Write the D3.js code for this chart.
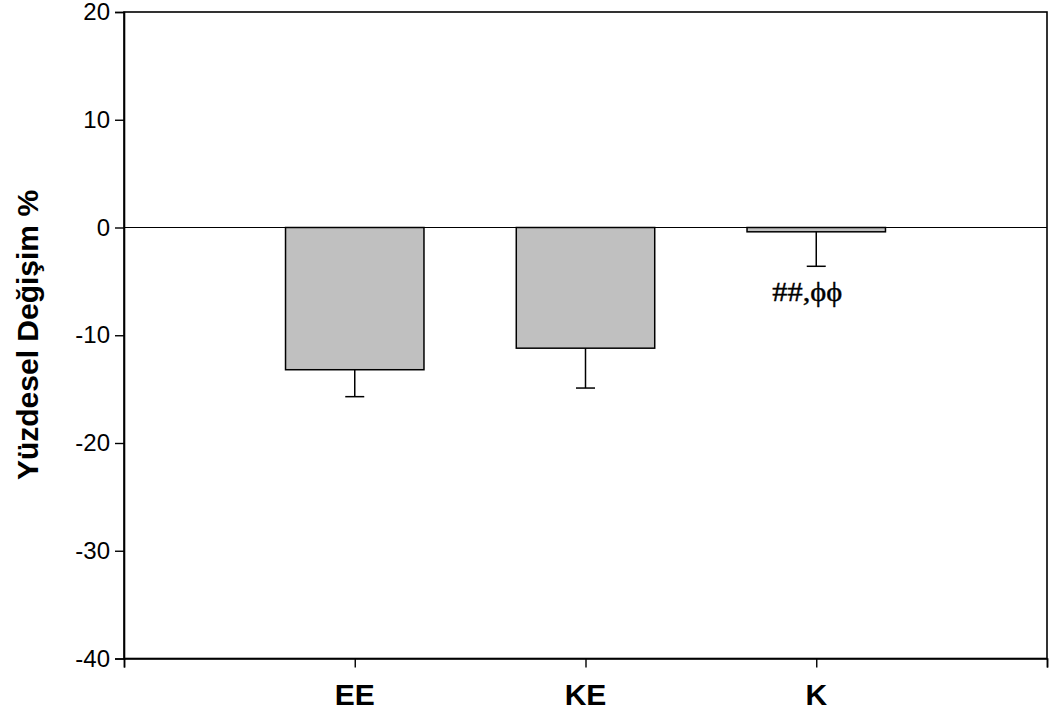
<!DOCTYPE html>
<html>
<head>
<meta charset="utf-8">
<script src="https://cdn.jsdelivr.net/npm/d3@7"></script>
<style>
  body { margin: 0; background: #fff; }
  svg { display: block; }
</style>
</head>
<body>
<script>
// data
const groups = ["EE", "KE", "K"]
const means = [-13.2, -11.2, -0.4]
const errors = [2.5, 3.7, 3.2]
const yTicks = [20, 10, 0, -10, -20, -30, -40]
const notes = ["", "", "##,ϕϕ"]
const yTitle = "Yüzdesel Değişim %"

const w = 1050
const h = 712

const svg = d3.select("body")
              .append("svg")
              .attr("width", w)
              .attr("height", h)

// group i sits at position i + 1 on a 0..4 axis
const x = d3.scaleLinear()
            .domain([0, groups.length + 1])
            .range([124, 1047])
const y = d3.scaleLinear()
            .domain([-40, 20])
            .range([658.5, 12])

const barW = (x(1) - x(0)) * 0.6

// frame
svg.append("rect")
   .attr("x", x(0))
   .attr("y", y(20))
   .attr("width", x(4) - x(0))
   .attr("height", y(-40) - y(20))
   .attr("fill", "none")
   .attr("stroke", "#000")
   .attr("stroke-width", 1.6)

// zero line
svg.append("line")
   .attr("x1", x(0))
   .attr("x2", x(4))
   .attr("y1", y(0))
   .attr("y2", y(0))
   .attr("stroke", "#000")
   .attr("stroke-width", 1.2)

// y axis (plain hyphen for negatives, like the original)
const yAxis = svg.append("g")
                 .attr("transform", "translate(" + x(0) + ",0)")
                 .call(d3.axisLeft(y).tickValues(yTicks).tickSize(9).tickPadding(5).tickFormat(d => String(d)))
yAxis.select(".domain").attr("stroke-width", 1.6)
yAxis.selectAll(".tick line").attr("stroke-width", 1.4)
yAxis.selectAll("text")
     .attr("font-family", "Liberation Sans, Arial, sans-serif")
     .attr("font-size", 24)
     .attr("fill", "#000")

// x axis
const xAxis = svg.append("g")
                 .attr("transform", "translate(0," + y(-40) + ")")
                 .call(d3.axisBottom(x).tickValues([0, 1, 2, 3, 4]).tickSize(9).tickFormat(""))
xAxis.select(".domain").attr("stroke-width", 1.6)
xAxis.selectAll(".tick line").attr("stroke-width", 1.4)

svg.selectAll(".xlabel")
   .data(groups)
   .enter()
   .append("text")
   .attr("class", "xlabel")
   .attr("x", (d, i) => x(i + 1))
   .attr("y", 705)
   .attr("text-anchor", "middle")
   .attr("font-family", "Liberation Sans, Arial, sans-serif")
   .attr("font-weight", "bold")
   .attr("font-size", 30)
   .text(d => d)

// bars
svg.selectAll(".bar")
   .data(means)
   .enter()
   .append("rect")
   .attr("class", "bar")
   .attr("x", (d, i) => x(i + 1) - barW / 2)
   .attr("y", d => y(Math.max(0, d)))
   .attr("width", barW)
   .attr("height", d => Math.abs(y(d) - y(0)))
   .attr("fill", "#c0c0c0")
   .attr("stroke", "#000")
   .attr("stroke-width", 1.5)

// error bars (downward only)
const err = svg.selectAll(".err")
               .data(means)
               .enter()
               .append("g")
               .attr("class", "err")
               .attr("stroke", "#000")
               .attr("stroke-width", 1.5)
err.append("line")
   .attr("x1", (d, i) => x(i + 1))
   .attr("x2", (d, i) => x(i + 1))
   .attr("y1", d => y(d))
   .attr("y2", (d, i) => y(d - errors[i]))
err.append("line")
   .attr("x1", (d, i) => x(i + 1) - 9.5)
   .attr("x2", (d, i) => x(i + 1) + 9.5)
   .attr("y1", (d, i) => y(d - errors[i]))
   .attr("y2", (d, i) => y(d - errors[i]))

// significance marks
svg.selectAll(".note")
   .data(notes.filter(d => d))
   .enter()
   .append("text")
   .attr("class", "note")
   .attr("x", x(3) - 9)
   .attr("y", 301)
   .attr("text-anchor", "middle")
   .attr("font-family", "Liberation Serif, Times New Roman, serif")
   .attr("font-size", 28)
   .attr("textLength", 70)
   .attr("lengthAdjust", "spacingAndGlyphs")
   .attr("stroke", "#000")
   .attr("stroke-width", 0.4)
   .text(d => d)

// y title
svg.append("text")
   .attr("transform", "translate(38," + 335 + ") rotate(-90)")
   .attr("text-anchor", "middle")
   .attr("font-family", "Liberation Sans, Arial, sans-serif")
   .attr("font-weight", "bold")
   .attr("font-size", 30)
   .text(yTitle)
</script>
</body>
</html>
